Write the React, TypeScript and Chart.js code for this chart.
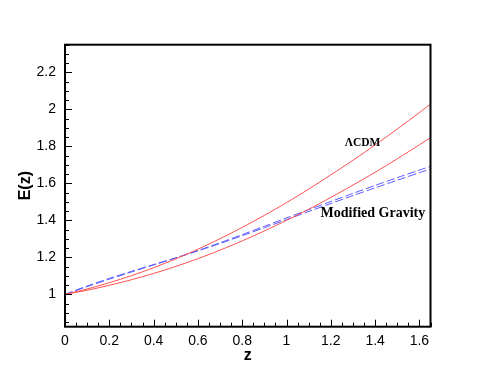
import React, { useEffect, useRef } from "react";
import { Chart, registerables } from "chart.js";

Chart.register(...registerables);

// Redshift samples
const Z = [0, 0.1, 0.2, 0.3, 0.4, 0.5, 0.6, 0.7, 0.8, 0.9, 1.0, 1.1, 1.2, 1.3, 1.4, 1.5, 1.6, 1.65];

// Lambda-CDM curves (two red solid lines)
const LCDM_UPPER = [1.0, 1.029, 1.063, 1.101, 1.144, 1.192, 1.244, 1.301, 1.362, 1.427, 1.496, 1.569, 1.646, 1.725, 1.808, 1.894, 1.983, 2.029];
const LCDM_LOWER = [1.0, 1.022, 1.049, 1.079, 1.113, 1.151, 1.193, 1.239, 1.289, 1.343, 1.400, 1.460, 1.524, 1.591, 1.660, 1.733, 1.809, 1.847];

// Modified gravity curves (two blue dashed lines)
const MG_A = [1.0, 1.042, 1.082, 1.121, 1.159, 1.197, 1.237, 1.279, 1.323, 1.368, 1.413, 1.458, 1.502, 1.546, 1.589, 1.631, 1.672, 1.692];
const MG_B = [1.0, 1.045, 1.086, 1.124, 1.161, 1.197, 1.235, 1.275, 1.317, 1.360, 1.404, 1.448, 1.491, 1.534, 1.576, 1.617, 1.658, 1.678];

// Axis ranges / ticks
const X_MIN = 0;
const X_MAX = 1.65;
const Y_MIN = 0.825;
const Y_MAX = 2.35;
const X_STEP = 0.2;
const Y_STEP = 0.2;
const MINOR_STEP = 0.05;

const X_TITLE = "z";
const Y_TITLE = "E(z)";
const LABEL_LCDM = "\u039BCDM";
const LABEL_MG = "Modified Gravity";

const RED = "rgb(255,80,80)";
const BLUE = "rgb(90,90,255)";

const toPts = (ys: number[]) => Z.map((z, i) => ({ x: z, y: ys[i] }));
const fmt = (v: any) => String(Math.round(Number(v) * 1000) / 1000);

const framePlugin = {
  id: "frameTicks",
  afterDatasetsDraw(chart: any) {
    const { ctx, chartArea, scales } = chart;
    const { left, right, top, bottom } = chartArea;
    const xs = scales.x;
    const ys = scales.y;
    ctx.save();
    ctx.strokeStyle = "#000";
    ctx.lineWidth = 1;
    const eps = 1e-6;
    // x ticks (inward from bottom)
    for (let k = 0; ; k++) {
      const v = X_MIN + k * MINOR_STEP;
      if (v > X_MAX + eps) break;
      const major = Math.abs(v / X_STEP - Math.round(v / X_STEP)) < 1e-4;
      const px = Math.round(xs.getPixelForValue(v)) + 0.5;
      ctx.beginPath();
      ctx.moveTo(px, bottom);
      ctx.lineTo(px, bottom - (major ? 7 : 4));
      ctx.stroke();
    }
    // y ticks (inward from left)
    for (let k = 1; ; k++) {
      const v = Math.round((0.8 + k * MINOR_STEP) * 1000) / 1000;
      if (v > Y_MAX + eps) break;
      if (v < Y_MIN) continue;
      const major = Math.abs(v / Y_STEP - Math.round(v / Y_STEP)) < 1e-4;
      const py = Math.round(ys.getPixelForValue(v)) + 0.5;
      ctx.beginPath();
      ctx.moveTo(left, py);
      ctx.lineTo(left + (major ? 7 : 4), py);
      ctx.stroke();
    }
    // frame
    ctx.lineWidth = 2;
    ctx.strokeRect(left, top, right - left, bottom - top);

    // annotations
    ctx.fillStyle = "#000";
    ctx.textAlign = "center";
    ctx.textBaseline = "middle";
    ctx.font = "bold 11.5px 'Liberation Serif'";
    ctx.fillText(LABEL_LCDM, xs.getPixelForValue(1.343), ys.getPixelForValue(1.817));
    ctx.font = "bold 14px 'Liberation Serif'";
    ctx.fillText(LABEL_MG, xs.getPixelForValue(1.39), ys.getPixelForValue(1.44));
    ctx.restore();
  },
};

export default function App() {
  const ref = useRef<HTMLCanvasElement>(null);

  useEffect(() => {
    if (!ref.current) return;
    const chart = new Chart(ref.current, {
      type: "line",
      data: {
        datasets: [
          { data: toPts(LCDM_UPPER), borderColor: RED, borderWidth: 1, pointRadius: 0, tension: 0.3, fill: false },
          { data: toPts(LCDM_LOWER), borderColor: RED, borderWidth: 1, pointRadius: 0, tension: 0.3, fill: false },
          { data: toPts(MG_A), borderColor: BLUE, borderWidth: 1, borderDash: [8, 3], pointRadius: 0, tension: 0.3, fill: false },
          { data: toPts(MG_B), borderColor: BLUE, borderWidth: 1, borderDash: [8, 3], pointRadius: 0, tension: 0.3, fill: false },
        ],
      },
      plugins: [framePlugin],
      options: {
        animation: false,
        responsive: false,
        devicePixelRatio: 1,
        layout: { padding: { top: 44.7, right: 60.5, left: 0, bottom: 0 } },
        plugins: { legend: { display: false }, tooltip: { enabled: false } },
        scales: {
          x: {
            type: "linear",
            min: X_MIN,
            max: X_MAX,
            border: { display: false },
            grid: { display: false, drawTicks: false },
            ticks: {
              stepSize: X_STEP,
              includeBounds: false,
              padding: 6,
              color: "#000",
              font: { family: "'Liberation Sans'", size: 14 },
              maxRotation: 0,
              autoSkip: false,
              callback: (v: any) => fmt(v),
            },
            title: {
              display: true,
              text: X_TITLE,
              color: "#000",
              font: { family: "'Liberation Sans'", size: 16, weight: "bold" },
              padding: { top: 0, bottom: 4 },
            },
            afterFit: (s: any) => {
              s.height = 42.3;
            },
          },
          y: {
            type: "linear",
            min: Y_MIN,
            max: Y_MAX,
            border: { display: false },
            grid: { display: false, drawTicks: false },
            ticks: {
              stepSize: Y_STEP,
              includeBounds: false,
              padding: 9,
              color: "#000",
              font: { family: "'Liberation Sans'", size: 14 },
              autoSkip: false,
              callback: (v: any) => fmt(v),
            },
            title: {
              display: true,
              text: Y_TITLE,
              color: "#000",
              font: { family: "'Liberation Sans'", size: 16, weight: "bold" },
              padding: { top: 16, bottom: 0 },
            },
            afterFit: (s: any) => {
              s.width = 65;
            },
          },
        },
      },
    });
    return () => chart.destroy();
  }, []);

  return (
    <div style={{ position: "absolute", left: 0, top: 0, width: 491, height: 369, background: "#fff" }}>
      <canvas ref={ref} width={491} height={369} />
    </div>
  );
}
